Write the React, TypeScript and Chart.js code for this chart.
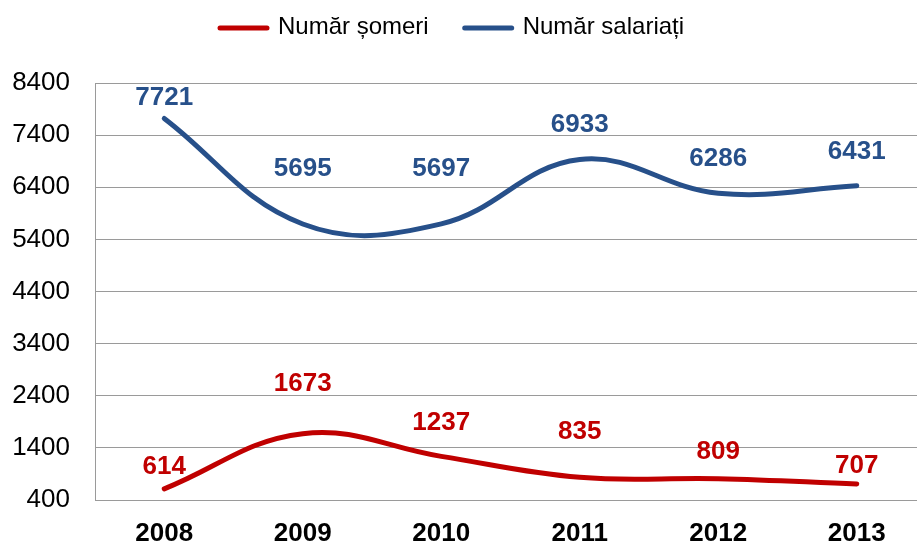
import React, { useEffect, useRef } from "react";
import { Chart, registerables } from "chart.js";

Chart.register(...registerables);

const categories = ["2008", "2009", "2010", "2011", "2012", "2013"];
const somerValues = [614, 1673, 1237, 835, 809, 707];
const salariatiValues = [7721, 5695, 5697, 6933, 6286, 6431];
const seriesNames = ["Număr șomeri", "Număr salariați"];
const yMin = 400;
const yMax = 8400;
const yStep = 1000;

// label vertical offsets above each point (style)
const somerLabelOffsets = [22, 50, 34, 45, 27, 18];
const salariatiLabelOffsets = [21, 55, 55, 35, 34, 34];

const RED = "#C00000";
const BLUE = "#27508A";
const GRID = "#9a9a9a";
const FONT = "'Liberation Sans', Arial, sans-serif";

const labelPlugin = {
  id: "valueLabels",
  afterDatasetsDraw(chart: any) {
    const ctx = chart.ctx;
    ctx.save();
    ctx.font = `bold 26px ${FONT}`;
    ctx.textAlign = "center";
    ctx.textBaseline = "middle";
    chart.data.datasets.forEach((ds: any, di: number) => {
      const meta = chart.getDatasetMeta(di);
      const offs = ds.labelOffsets || [];
      ctx.fillStyle = ds.borderColor;
      meta.data.forEach((pt: any, i: number) => {
        ctx.fillText(String(ds.data[i]), pt.x, pt.y - (offs[i] ?? 25));
      });
    });
    ctx.restore();
  },
};

const legendPlugin = {
  id: "customLegend",
  afterDraw(chart: any) {
    const ctx = chart.ctx;
    ctx.save();
    ctx.font = `24px ${FONT}`;
    ctx.textBaseline = "middle";
    ctx.textAlign = "left";
    let x = 218;
    const y = 27;
    chart.data.datasets.forEach((ds: any) => {
      ctx.strokeStyle = ds.borderColor;
      ctx.lineWidth = 5;
      ctx.lineCap = "round";
      ctx.beginPath();
      ctx.moveTo(x + 2, y + 1);
      ctx.lineTo(x + 49, y + 1);
      ctx.stroke();
      ctx.fillStyle = "#000";
      const tx = x + 60;
      ctx.fillText(ds.label, tx, y);
      x = tx + ctx.measureText(ds.label).width + 34;
    });
    ctx.restore();
  },
};

export default function App() {
  const ref = useRef<HTMLCanvasElement>(null);
  useEffect(() => {
    if (!ref.current) return;
    Chart.defaults.font.family = FONT;
    const chart = new Chart(ref.current, {
      type: "line",
      data: {
        labels: categories,
        datasets: [
          {
            label: seriesNames[0],
            data: somerValues,
            borderColor: RED,
            backgroundColor: RED,
            borderWidth: 5,
            tension: 0.4,
            pointRadius: 0,
            borderCapStyle: "round",
            fill: false,
            labelOffsets: somerLabelOffsets,
          } as any,
          {
            label: seriesNames[1],
            data: salariatiValues,
            borderColor: BLUE,
            backgroundColor: BLUE,
            borderWidth: 5,
            tension: 0.4,
            pointRadius: 0,
            borderCapStyle: "round",
            fill: false,
            labelOffsets: salariatiLabelOffsets,
          } as any,
        ],
      },
      options: {
        responsive: false,
        animation: false,
        devicePixelRatio: 1,
        layout: { padding: { left: 12, right: 9, top: 83, bottom: 0 } },
        plugins: {
          legend: { display: false },
          tooltip: { enabled: false },
        },
        scales: {
          x: {
            type: "category",
            offset: true,
            grid: { color: "transparent", drawTicks: false },
            border: { display: true, color: GRID, width: 1 },
            ticks: {
              color: "#000",
              font: { size: 26, weight: "bold", family: FONT },
              padding: 18,
              maxRotation: 0,
              autoSkip: false,
            },
            afterFit: (s: any) => {
              s.height = 46;
            },
          },
          y: {
            min: yMin,
            max: yMax,
            grid: { color: GRID, drawTicks: false, lineWidth: 1 },
            border: { display: true, color: GRID, width: 1 },
            ticks: {
              stepSize: yStep,
              color: "#000",
              font: { size: 26, family: FONT },
              padding: 25,
              callback: (v: any) => String(v),
            },
            afterFit: (s: any) => {
              s.width = 83;
            },
          },
        },
      },
      plugins: [labelPlugin, legendPlugin],
    });
    return () => chart.destroy();
  }, []);
  return (
    <div
      style={{
        position: "fixed",
        left: 0,
        top: 0,
        width: 917,
        height: 546,
        overflow: "hidden",
        background: "#fff",
      }}
    >
      <canvas ref={ref} width={935} height={546} style={{ display: "block" }} />
    </div>
  );
}
